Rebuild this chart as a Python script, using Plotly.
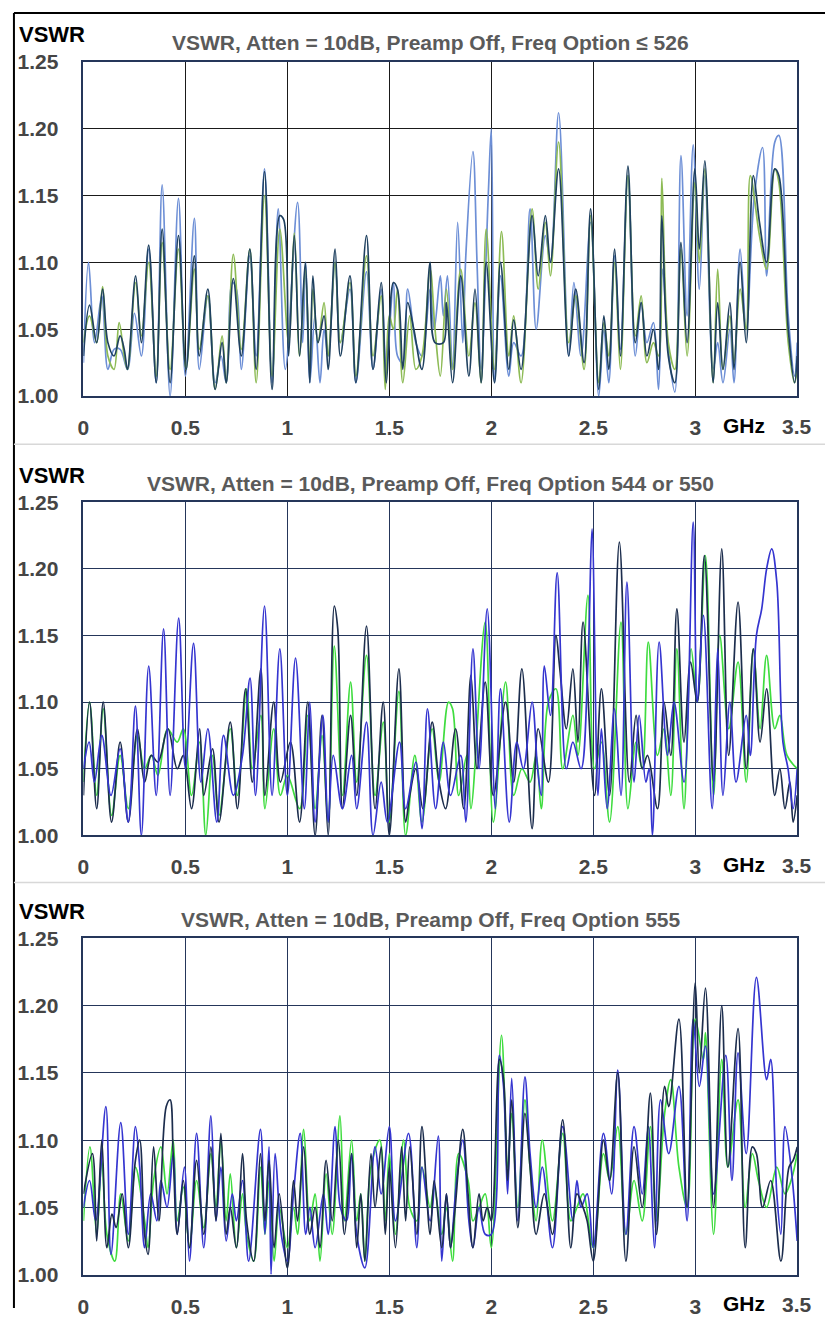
import plotly.graph_objects as go

# ---------------- Panel 1 : Freq Option <= 526 ----------------
p1_lb_f = [0.00,0.025,0.055,0.09,0.12,0.15,0.18,0.216,0.25,0.284,0.32,0.357,0.386,0.425,0.466,0.50,0.544,0.568,0.61,0.646,0.675,0.70,0.73,0.75,0.774,0.816,0.847,0.888,0.925,0.955,0.99,1.05,1.075,1.09,1.11,1.135,1.16,1.18,1.20,1.234,1.26,1.307,1.336,1.388,1.42,1.46,1.485,1.52,1.54,1.566,1.59,1.63,1.66,1.70,1.72,1.75,1.765,1.785,1.81,1.835,1.86,1.875,1.91,1.93,1.95,1.985,2.00,2.016,2.045,2.086,2.11,2.146,2.19,2.22,2.265,2.29,2.33,2.38,2.405,2.44,2.487,2.527,2.552,2.576,2.605,2.633,2.67,2.706,2.735,2.763,2.795,2.82,2.84,2.868,2.90,2.93,2.96,2.99,3.02,3.047,3.088,3.11,3.136,3.17,3.19,3.22,3.25,3.29,3.33,3.35,3.39,3.41,3.456,3.487,3.50]
p1_lb_v = [1.025,1.100,1.040,1.075,1.020,1.035,1.035,1.020,1.062,1.030,1.110,1.010,1.158,1.000,1.148,1.015,1.133,1.020,1.075,1.010,1.030,1.010,1.085,1.080,1.020,1.105,1.030,1.170,1.010,1.140,1.020,1.145,1.040,1.100,1.010,1.060,1.010,1.050,1.030,1.100,1.040,1.080,1.010,1.093,1.020,1.080,1.020,1.085,1.030,1.025,1.080,1.040,1.030,1.080,1.050,1.090,1.060,1.090,1.020,1.130,1.040,1.105,1.183,1.100,1.020,1.150,1.200,1.010,1.090,1.015,1.040,1.030,1.140,1.050,1.120,1.100,1.212,1.030,1.085,1.030,1.130,1.000,1.050,1.010,1.105,1.035,1.165,1.030,1.070,1.040,1.055,1.005,1.095,1.035,1.003,1.180,1.060,1.188,1.080,1.165,1.020,1.040,1.010,1.050,1.010,1.110,1.050,1.150,1.186,1.090,1.190,1.195,1.060,1.015,1.040]

p1_gr_f = [0.00,0.03,0.065,0.094,0.12,0.15,0.175,0.20,0.216,0.256,0.284,0.32,0.357,0.386,0.425,0.466,0.503,0.544,0.568,0.61,0.646,0.68,0.70,0.735,0.774,0.816,0.847,0.888,0.925,0.963,1.006,1.034,1.06,1.088,1.11,1.125,1.15,1.18,1.20,1.234,1.26,1.307,1.336,1.388,1.42,1.46,1.48,1.50,1.52,1.54,1.566,1.60,1.63,1.66,1.70,1.724,1.75,1.78,1.81,1.85,1.89,1.92,1.95,1.975,2.016,2.05,2.086,2.11,2.146,2.20,2.23,2.265,2.29,2.33,2.38,2.414,2.455,2.487,2.527,2.552,2.576,2.605,2.633,2.67,2.706,2.735,2.763,2.795,2.82,2.836,2.868,2.90,2.93,2.96,2.998,3.02,3.047,3.088,3.11,3.136,3.17,3.19,3.22,3.25,3.27,3.315,3.35,3.39,3.41,3.456,3.487,3.50]
p1_gr_v = [1.040,1.060,1.040,1.082,1.030,1.020,1.055,1.030,1.020,1.085,1.045,1.100,1.015,1.115,1.020,1.110,1.020,1.095,1.035,1.075,1.005,1.045,1.010,1.106,1.035,1.110,1.010,1.150,1.015,1.125,1.040,1.122,1.030,1.095,1.020,1.080,1.040,1.070,1.030,1.100,1.040,1.085,1.015,1.105,1.030,1.075,1.005,1.060,1.050,1.080,1.010,1.060,1.020,1.030,1.095,1.050,1.015,1.080,1.020,1.095,1.030,1.070,1.010,1.125,1.020,1.123,1.030,1.060,1.010,1.140,1.080,1.130,1.090,1.190,1.040,1.075,1.020,1.135,1.010,1.055,1.030,1.100,1.020,1.165,1.045,1.075,1.025,1.040,1.030,1.163,1.040,1.020,1.110,1.030,1.160,1.100,1.170,1.010,1.095,1.020,1.060,1.025,1.080,1.050,1.165,1.120,1.095,1.170,1.160,1.040,1.010,1.020]

p1_dk_f = [0.00,0.03,0.065,0.094,0.12,0.15,0.18,0.20,0.216,0.256,0.284,0.32,0.357,0.386,0.425,0.466,0.503,0.544,0.568,0.61,0.646,0.68,0.70,0.735,0.774,0.816,0.847,0.888,0.925,0.963,0.982,1.006,1.034,1.06,1.088,1.11,1.125,1.15,1.18,1.20,1.234,1.26,1.307,1.336,1.388,1.42,1.46,1.485,1.52,1.54,1.566,1.59,1.62,1.66,1.70,1.724,1.765,1.78,1.81,1.85,1.89,1.92,1.95,1.975,2.016,2.045,2.086,2.11,2.146,2.20,2.23,2.265,2.29,2.33,2.38,2.414,2.455,2.487,2.527,2.552,2.576,2.605,2.633,2.67,2.706,2.735,2.763,2.795,2.82,2.836,2.868,2.90,2.93,2.96,2.998,3.02,3.047,3.088,3.11,3.136,3.17,3.19,3.22,3.25,3.285,3.315,3.35,3.39,3.41,3.456,3.487,3.50]
p1_dk_v = [1.030,1.068,1.040,1.080,1.040,1.030,1.045,1.035,1.020,1.090,1.040,1.113,1.010,1.125,1.010,1.120,1.020,1.105,1.030,1.080,1.005,1.040,1.010,1.088,1.030,1.110,1.020,1.168,1.005,1.135,1.132,1.030,1.120,1.030,1.100,1.010,1.090,1.040,1.060,1.020,1.110,1.030,1.090,1.010,1.120,1.020,1.085,1.010,1.085,1.080,1.020,1.070,1.050,1.020,1.100,1.040,1.040,1.070,1.010,1.090,1.015,1.080,1.010,1.100,1.010,1.100,1.020,1.057,1.020,1.135,1.090,1.135,1.100,1.170,1.030,1.080,1.025,1.140,1.005,1.060,1.020,1.110,1.030,1.172,1.040,1.070,1.030,1.050,1.020,1.135,1.030,1.010,1.115,1.040,1.170,1.110,1.176,1.010,1.070,1.020,1.070,1.020,1.100,1.040,1.165,1.130,1.100,1.170,1.165,1.050,1.010,1.030]

# ---------------- Panel 2 : Freq Option 544 or 550 ----------------
p2_bl_f = [0.00,0.028,0.054,0.09,0.135,0.18,0.22,0.255,0.284,0.32,0.357,0.393,0.425,0.467,0.50,0.54,0.576,0.61,0.654,0.687,0.735,0.78,0.817,0.844,0.888,0.925,0.963,1.00,1.04,1.083,1.11,1.136,1.174,1.20,1.225,1.27,1.315,1.34,1.388,1.42,1.46,1.49,1.55,1.58,1.63,1.66,1.687,1.727,1.765,1.80,1.85,1.875,1.91,1.94,1.98,2.02,2.045,2.088,2.125,2.157,2.20,2.227,2.245,2.26,2.29,2.323,2.368,2.40,2.44,2.474,2.494,2.523,2.54,2.568,2.604,2.636,2.665,2.70,2.725,2.758,2.774,2.79,2.823,2.864,2.896,2.945,2.99,3.01,3.04,3.083,3.11,3.136,3.17,3.20,3.25,3.27,3.30,3.326,3.35,3.375,3.40,3.43,3.455,3.48,3.50]
p2_bl_v = [1.050,1.070,1.040,1.075,1.030,1.065,1.010,1.097,1.000,1.127,1.030,1.155,1.030,1.163,1.050,1.144,1.040,1.080,1.010,1.075,1.030,1.060,1.118,1.030,1.172,1.030,1.140,1.030,1.133,1.020,1.100,1.010,1.090,1.010,1.060,1.020,1.060,1.020,1.085,1.000,1.040,1.010,1.070,1.020,1.055,1.005,1.095,1.020,1.070,1.030,1.060,1.010,1.140,1.050,1.170,1.020,1.110,1.010,1.070,1.050,1.100,1.050,1.030,1.127,1.090,1.197,1.050,1.070,1.050,1.130,1.230,1.030,1.080,1.020,1.095,1.030,1.190,1.040,1.090,1.040,1.050,1.000,1.145,1.060,1.100,1.040,1.235,1.100,1.165,1.020,1.140,1.030,1.100,1.040,1.090,1.060,1.150,1.170,1.200,1.215,1.190,1.070,1.050,1.020,1.050]

p2_gr_f = [0.00,0.03,0.065,0.097,0.138,0.18,0.22,0.265,0.30,0.333,0.365,0.40,0.414,0.46,0.49,0.53,0.57,0.60,0.633,0.665,0.72,0.755,0.80,0.828,0.87,0.89,0.933,0.966,1.00,1.06,1.10,1.136,1.17,1.20,1.23,1.27,1.31,1.34,1.388,1.43,1.47,1.50,1.547,1.58,1.625,1.66,1.71,1.744,1.79,1.81,1.84,1.88,1.90,1.97,2.01,2.07,2.11,2.15,2.19,2.22,2.245,2.28,2.317,2.35,2.40,2.425,2.474,2.506,2.54,2.58,2.636,2.67,2.71,2.74,2.77,2.815,2.847,2.88,2.91,2.945,2.98,3.01,3.05,3.09,3.12,3.164,3.21,3.25,3.285,3.318,3.35,3.39,3.415,3.45,3.50]
p2_gr_v = [1.040,1.100,1.030,1.095,1.015,1.060,1.020,1.075,1.050,1.060,1.045,1.075,1.080,1.070,1.080,1.030,1.070,1.000,1.060,1.015,1.080,1.030,1.110,1.050,1.090,1.020,1.080,1.030,1.045,1.020,1.090,1.020,1.075,1.010,1.142,1.030,1.115,1.040,1.135,1.030,1.085,1.010,1.108,1.000,1.060,1.010,1.080,1.040,1.100,1.095,1.030,1.060,1.020,1.160,1.010,1.115,1.030,1.050,1.040,1.060,1.020,1.100,1.110,1.050,1.090,1.060,1.180,1.050,1.070,1.010,1.160,1.020,1.070,1.050,1.145,1.060,1.080,1.030,1.140,1.020,1.140,1.100,1.210,1.030,1.150,1.080,1.130,1.040,1.140,1.080,1.135,1.080,1.090,1.060,1.050]

p2_dk_f = [0.00,0.03,0.065,0.097,0.138,0.18,0.22,0.265,0.30,0.333,0.365,0.414,0.46,0.49,0.53,0.57,0.59,0.633,0.665,0.72,0.755,0.795,0.828,0.87,0.89,0.933,0.966,1.015,1.06,1.10,1.136,1.17,1.20,1.23,1.247,1.27,1.31,1.34,1.388,1.43,1.47,1.50,1.547,1.58,1.60,1.63,1.665,1.71,1.744,1.776,1.825,1.865,1.90,1.93,1.97,2.01,2.07,2.11,2.15,2.20,2.23,2.28,2.317,2.336,2.368,2.40,2.425,2.45,2.506,2.54,2.58,2.628,2.677,2.71,2.74,2.766,2.815,2.847,2.88,2.91,2.945,2.977,3.01,3.045,3.09,3.13,3.164,3.21,3.25,3.285,3.318,3.35,3.39,3.415,3.44,3.464,3.48,3.50]
p2_dk_v = [1.030,1.100,1.020,1.100,1.010,1.070,1.010,1.080,1.040,1.060,1.055,1.080,1.050,1.060,1.020,1.080,1.030,1.065,1.010,1.085,1.020,1.110,1.040,1.125,1.030,1.100,1.040,1.070,1.010,1.100,1.000,1.090,1.000,1.172,1.155,1.020,1.090,1.030,1.157,1.020,1.100,1.000,1.125,1.010,1.030,1.050,1.020,1.085,1.040,1.020,1.080,1.020,1.120,1.050,1.115,1.030,1.100,1.040,1.125,1.005,1.080,1.040,1.150,1.125,1.080,1.125,1.070,1.160,1.030,1.110,1.030,1.220,1.040,1.090,1.050,1.060,1.020,1.100,1.060,1.170,1.070,1.130,1.100,1.210,1.040,1.215,1.060,1.175,1.050,1.140,1.070,1.110,1.030,1.050,1.020,1.040,1.010,1.030]

# ---------------- Panel 3 : Freq Option 555 ----------------
p3_bl_f = [0.00,0.03,0.06,0.11,0.135,0.183,0.22,0.255,0.276,0.30,0.33,0.36,0.38,0.41,0.44,0.46,0.495,0.52,0.555,0.59,0.625,0.65,0.674,0.70,0.73,0.75,0.78,0.81,0.868,0.89,0.91,0.92,0.94,0.97,1.00,1.03,1.063,1.09,1.11,1.136,1.177,1.20,1.234,1.26,1.29,1.315,1.34,1.38,1.43,1.46,1.50,1.53,1.594,1.635,1.66,1.70,1.74,1.757,1.78,1.80,1.83,1.86,1.89,1.91,1.94,1.97,2.00,2.04,2.06,2.08,2.10,2.13,2.165,2.19,2.22,2.25,2.30,2.35,2.40,2.42,2.44,2.47,2.50,2.55,2.59,2.62,2.66,2.70,2.74,2.77,2.80,2.83,2.87,2.92,2.96,2.99,3.02,3.05,3.09,3.15,3.18,3.21,3.25,3.30,3.35,3.37,3.40,3.42,3.44,3.47,3.50]
p3_bl_v = [1.050,1.070,1.040,1.125,1.015,1.113,1.030,1.110,1.080,1.020,1.060,1.040,1.070,1.050,1.090,1.030,1.080,1.010,1.105,1.020,1.118,1.040,1.080,1.025,1.060,1.040,1.070,1.010,1.108,1.030,1.095,1.000,1.090,1.030,1.010,1.060,1.105,1.030,1.050,1.020,1.060,1.030,1.110,1.050,1.040,1.090,1.030,1.005,1.095,1.060,1.110,1.040,1.105,1.020,1.080,1.040,1.103,1.010,1.060,1.020,1.070,1.100,1.040,1.020,1.050,1.030,1.030,1.163,1.140,1.060,1.146,1.040,1.147,1.090,1.050,1.080,1.020,1.110,1.040,1.070,1.050,1.060,1.020,1.105,1.060,1.152,1.030,1.110,1.060,1.110,1.020,1.130,1.090,1.140,1.040,1.190,1.140,1.170,1.060,1.163,1.070,1.165,1.090,1.221,1.145,1.160,1.060,1.030,1.110,1.080,1.025]

p3_gr_f = [0.00,0.032,0.065,0.09,0.115,0.154,0.183,0.22,0.255,0.30,0.317,0.344,0.38,0.41,0.44,0.46,0.49,0.52,0.555,0.59,0.625,0.65,0.674,0.70,0.72,0.75,0.78,0.80,0.835,0.868,0.89,0.91,0.935,0.96,1.00,1.03,1.05,1.08,1.11,1.136,1.16,1.19,1.22,1.258,1.28,1.315,1.34,1.36,1.38,1.41,1.453,1.48,1.50,1.53,1.57,1.60,1.635,1.66,1.70,1.72,1.757,1.78,1.81,1.84,1.886,1.91,1.94,1.97,2.00,2.05,2.08,2.10,2.13,2.165,2.19,2.22,2.25,2.30,2.35,2.39,2.42,2.45,2.50,2.55,2.58,2.62,2.66,2.70,2.74,2.78,2.81,2.85,2.88,2.92,2.96,3.00,3.04,3.05,3.09,3.13,3.16,3.21,3.245,3.28,3.31,3.35,3.40,3.44,3.47,3.50]
p3_gr_v = [1.040,1.095,1.030,1.085,1.030,1.010,1.060,1.025,1.080,1.040,1.020,1.070,1.095,1.060,1.100,1.040,1.065,1.020,1.070,1.035,1.090,1.050,1.100,1.040,1.075,1.020,1.060,1.030,1.010,1.080,1.030,1.070,1.010,1.050,1.020,1.050,1.030,1.108,1.040,1.060,1.010,1.075,1.030,1.118,1.040,1.100,1.040,1.060,1.010,1.080,1.100,1.040,1.090,1.030,1.100,1.050,1.040,1.080,1.050,1.065,1.030,1.050,1.010,1.090,1.070,1.040,1.050,1.060,1.020,1.178,1.080,1.120,1.050,1.130,1.080,1.040,1.100,1.040,1.105,1.040,1.050,1.060,1.020,1.090,1.070,1.110,1.030,1.070,1.040,1.110,1.040,1.120,1.145,1.080,1.050,1.190,1.160,1.180,1.030,1.160,1.080,1.130,1.050,1.090,1.070,1.050,1.080,1.060,1.070,1.090]

p3_dk_f = [0.00,0.044,0.065,0.09,0.115,0.14,0.16,0.19,0.22,0.255,0.276,0.30,0.317,0.344,0.37,0.406,0.425,0.44,0.46,0.49,0.52,0.555,0.59,0.625,0.65,0.674,0.70,0.72,0.75,0.78,0.80,0.835,0.868,0.89,0.91,0.935,0.96,1.00,1.03,1.05,1.08,1.11,1.136,1.16,1.19,1.22,1.25,1.28,1.315,1.34,1.36,1.38,1.41,1.43,1.46,1.48,1.50,1.53,1.56,1.58,1.60,1.635,1.66,1.70,1.72,1.757,1.78,1.80,1.82,1.86,1.886,1.91,1.94,1.96,1.98,2.00,2.04,2.06,2.08,2.10,2.13,2.165,2.19,2.22,2.26,2.30,2.35,2.39,2.42,2.45,2.47,2.50,2.55,2.58,2.62,2.66,2.70,2.74,2.78,2.81,2.85,2.87,2.92,2.96,3.00,3.02,3.05,3.09,3.13,3.16,3.21,3.245,3.28,3.30,3.33,3.37,3.42,3.46,3.48,3.50]
p3_dk_v = [1.060,1.090,1.025,1.100,1.020,1.045,1.035,1.060,1.020,1.085,1.100,1.030,1.015,1.095,1.040,1.125,1.130,1.090,1.030,1.070,1.020,1.085,1.030,1.095,1.040,1.105,1.030,1.050,1.020,1.090,1.040,1.010,1.090,1.040,1.085,1.020,1.060,1.005,1.070,1.040,1.095,1.030,1.050,1.020,1.085,1.040,1.100,1.030,1.090,1.020,1.060,1.010,1.090,1.050,1.095,1.030,1.080,1.020,1.095,1.040,1.095,1.030,1.110,1.030,1.070,1.020,1.060,1.020,1.045,1.108,1.060,1.020,1.060,1.040,1.050,1.040,1.160,1.145,1.070,1.130,1.035,1.120,1.080,1.030,1.060,1.030,1.115,1.020,1.060,1.050,1.040,1.010,1.100,1.070,1.150,1.010,1.095,1.050,1.135,1.030,1.140,1.125,1.190,1.050,1.217,1.150,1.213,1.050,1.200,1.080,1.183,1.020,1.095,1.090,1.050,1.070,1.010,1.080,1.085,1.095]

# ---------------- Axis / text content ----------------
titles = ["VSWR, Atten = 10dB, Preamp Off, Freq Option ≤ 526",
          "VSWR, Atten = 10dB, Preamp Off, Freq Option 544 or 550",
          "VSWR, Atten = 10dB, Preamp Off, Freq Option 555"]
x_ticks = [0, 0.5, 1, 1.5, 2, 2.5, 3, 3.5]
x_tick_text = ["0", "0.5", "1", "1.5", "2", "2.5", "3", ""]   # last label drawn as an annotation
x_last_label = "3.5"
y_ticks = [1.00, 1.05, 1.10, 1.15, 1.20, 1.25]
y_tick_text = ["1.00", "1.05", "1.10", "1.15", "1.20", "1.25"]

W, H = 825, 1319
SY, AY = 0.982, 12.1
px = lambda x: max(0.0, min(1.0, x / W))
py = lambda y: max(0.0, min(1.0, 1 - (y - AY) / SY / H))

panels = [
    dict(top=62, bot=396,
         series=[(p1_lb_f, p1_lb_v, "#6d8fd6"), (p1_gr_f, p1_gr_v, "#8dbb55"), (p1_dk_f, p1_dk_v, "#1f4160")],
         grid="#1a1a1a"),
    dict(top=502, bot=835,
         series=[(p2_gr_f, p2_gr_v, "#3fdc3f"), (p2_dk_f, p2_dk_v, "#1c2d4d"), (p2_bl_f, p2_bl_v, "#3535d0")],
         grid="#25365a"),
    dict(top=938, bot=1274,
         series=[(p3_gr_f, p3_gr_v, "#3fdc3f"), (p3_bl_f, p3_bl_v, "#3535d0"), (p3_dk_f, p3_dk_v, "#1c2d4d")],
         grid="#25365a"),
]

fig = go.Figure()
FONT = "Liberation Sans, Arial, sans-serif"

for i, p in enumerate(panels):
    n = i + 1
    xa = "x" if n == 1 else f"x{n}"
    ya = "y" if n == 1 else f"y{n}"
    for f, v, c in p["series"]:
        fig.add_trace(go.Scatter(x=f, y=v, mode="lines", xaxis=xa, yaxis=ya,
                                 line=dict(color=c, width=1.7, shape="spline", smoothing=1.0),
                                 showlegend=False, hoverinfo="skip"))
    axcommon = dict(showline=True, linecolor="#25365a", linewidth=1.5, mirror=True,
                    showgrid=True, gridcolor=p["grid"], gridwidth=1.3, zeroline=False,
                    ticks="", tickfont=dict(family=FONT, size=21, color="#454545", weight="bold"))
    fig.layout[f"xaxis{n if n > 1 else ''}"] = dict(
        axcommon, domain=[px(78), px(797)], range=[0, 3.5], anchor=ya,
        tickvals=x_ticks, ticktext=x_tick_text, ticklabelstandoff=12)
    fig.layout[f"yaxis{n if n > 1 else ''}"] = dict(
        axcommon, domain=[py(p["bot"]), py(p["top"])], range=[1.0, 1.25], anchor=xa,
        tickvals=y_ticks, ticktext=y_tick_text, ticklabelstandoff=19)
    fig.add_annotation(text="<b>VSWR</b>", x=px(11), y=py(p["top"] - 27), xref="paper", yref="paper",
                       xanchor="left", yanchor="middle", showarrow=False,
                       font=dict(family=FONT, size=22, color="#000000"))
    fig.add_annotation(text="<b>" + titles[i] + "</b>", x=px(428), y=py(p["top"] - 19), xref="paper",
                       yref="paper", xanchor="center", yanchor="middle", showarrow=False,
                       font=dict(family=FONT, size=21, color="#5a5a5a"))
    fig.add_annotation(text="<b>GHz</b>", x=px(743), y=py(p["bot"] + 29), xref="paper", yref="paper",
                       xanchor="center", yanchor="middle", showarrow=False,
                       font=dict(family=FONT, size=21, color="#000000"))
    # last x tick label, placed on the axis at 3.5
    fig.add_annotation(text="<b>" + x_last_label + "</b>", x=3.5, xref=xa, y=py(p["bot"] + 30),
                       yref="paper", xanchor="center", yanchor="middle", showarrow=False,
                       font=dict(family=FONT, size=21, color="#454545"))

shapes = [
    dict(type="line", xref="paper", yref="paper", x0=px(8), x1=1, y0=py(13), y1=py(13),
         line=dict(color="#000000", width=2)),
    dict(type="line", xref="paper", yref="paper", x0=px(8), x1=px(8), y0=py(13), y1=0,
         line=dict(color="#000000", width=2)),
    dict(type="line", xref="paper", yref="paper", x0=px(8), x1=1, y0=py(444), y1=py(444),
         line=dict(color="#d8d8d8", width=1.5)),
    dict(type="line", xref="paper", yref="paper", x0=px(8), x1=1, y0=py(882), y1=py(882),
         line=dict(color="#d8d8d8", width=1.5)),
]

fig.update_layout(width=W, height=H, margin=dict(l=0, r=0, t=0, b=0),
                  paper_bgcolor="white", plot_bgcolor="white", shapes=shapes)

fig.write_html("out.html", config={"displayModeBar": False},
               post_script="document.body.style.margin='0px';document.body.style.overflow='hidden';")
